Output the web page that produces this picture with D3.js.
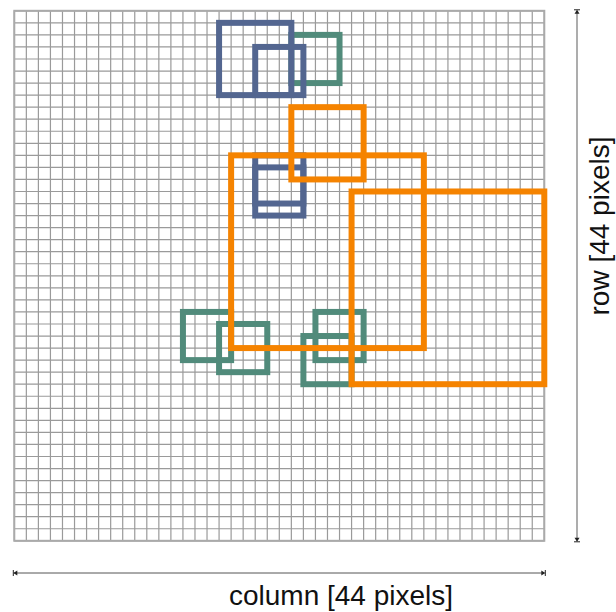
<!DOCTYPE html>
<html><head><meta charset="utf-8">
<script src="https://cdn.jsdelivr.net/npm/d3@7"></script>
<style>html,body{margin:0;padding:0;background:#fff;}svg{display:block;}</style>
</head><body>
<script>
// ---- data ----
const gridCols = 44;
const gridRows = 44;
const xLabel = "column [44 pixels]";
const yLabel = "row [44 pixels]";
// boxes: [col0, row0, col1, row1]
const greenBoxes = [[23,2,27,6],[14,25,18,29],[17,26,21,30],[25,25,29,29],[24,27,28,31]];
const blueBoxes = [[17,1,23,7],[20,3,24,7],[20,12,24,16],[20,13,24,17]];
const orangeBoxes = [[23,8,29,14],[18,12,34,28],[28,15,44,31]];
const seriesColors = ["#518b7b", "#536690", "#f58300"];

// ---- drawing ----
const W = 616, H = 612;
const svg = d3.select("body").append("svg").attr("width", W).attr("height", H);
const x = d3.scaleLinear().domain([0, gridCols]).range([14.3, 544.3]);
const y = d3.scaleLinear().domain([0, gridRows]).range([10.8, 540.8]);

const grid = svg.append("g");
grid.selectAll("line.v").data(d3.range(gridCols + 1)).join("line")
  .attr("x1", d => x(d)).attr("x2", d => x(d))
  .attr("y1", y(0)).attr("y2", y(gridRows))
  .attr("stroke", "#9a9a9a").attr("stroke-width", 1.2);
grid.selectAll("line.h").data(d3.range(gridRows + 1)).join("line")
  .attr("y1", d => y(d)).attr("y2", d => y(d))
  .attr("x1", x(0)).attr("x2", x(gridCols))
  .attr("stroke", "#9a9a9a").attr("stroke-width", 1.2);
grid.append("rect").attr("x", x(0)).attr("y", y(0))
  .attr("width", x(gridCols) - x(0)).attr("height", y(gridRows) - y(0))
  .attr("fill", "none").attr("stroke", "#aaa").attr("stroke-width", 2);

[greenBoxes, blueBoxes, orangeBoxes].forEach((boxes, i) => {
  svg.append("g").selectAll("rect").data(boxes).join("rect")
    .attr("x", d => x(d[0])).attr("y", d => y(d[1]))
    .attr("width", d => x(d[2]) - x(d[0])).attr("height", d => y(d[3]) - y(d[1]))
    .attr("fill", "none").attr("stroke", seriesColors[i]).attr("stroke-width", 6);
});

// dimension lines
const dimX = 577, dimY = 573;
svg.append("line").attr("x1", dimX).attr("x2", dimX).attr("y1", y(0)).attr("y2", y(gridRows))
  .attr("stroke", "#999").attr("stroke-width", 1.6);
svg.append("line").attr("x1", x(0)).attr("x2", x(gridCols)).attr("y1", dimY).attr("y2", dimY)
  .attr("stroke", "#555").attr("stroke-width", 1);
function capV(yy, dir) {
  svg.append("line").attr("x1", dimX - 3).attr("x2", dimX + 3).attr("y1", yy).attr("y2", yy)
    .attr("stroke", "#222").attr("stroke-width", 1);
  svg.append("path").attr("d", `M${dimX},${yy} L${dimX - 2.5},${yy + dir * 4} L${dimX + 2.5},${yy + dir * 4} Z`)
    .attr("fill", "#222");
}
function capH(xx, dir) {
  svg.append("line").attr("y1", dimY - 3).attr("y2", dimY + 3).attr("x1", xx).attr("x2", xx)
    .attr("stroke", "#222").attr("stroke-width", 1);
  svg.append("path").attr("d", `M${xx},${dimY} L${xx + dir * 4},${dimY - 2.5} L${xx + dir * 4},${dimY + 2.5} Z`)
    .attr("fill", "#222");
}
capV(y(0) - 1, 1); capV(y(gridRows) + 1, -1);
capH(x(0) - 1, 1); capH(x(gridCols) + 1, -1);

svg.append("text").attr("x", 341).attr("y", 605).attr("text-anchor", "middle")
  .attr("font-family", "Liberation Sans, Arial, sans-serif").attr("font-size", 28).attr("fill", "#111")
  .text(xLabel);
svg.append("text").attr("transform", "translate(609,226) rotate(-90)").attr("text-anchor", "middle")
  .attr("font-family", "Liberation Sans, Arial, sans-serif").attr("font-size", 28).attr("fill", "#111")
  .text(yLabel);
</script>
</body></html>
